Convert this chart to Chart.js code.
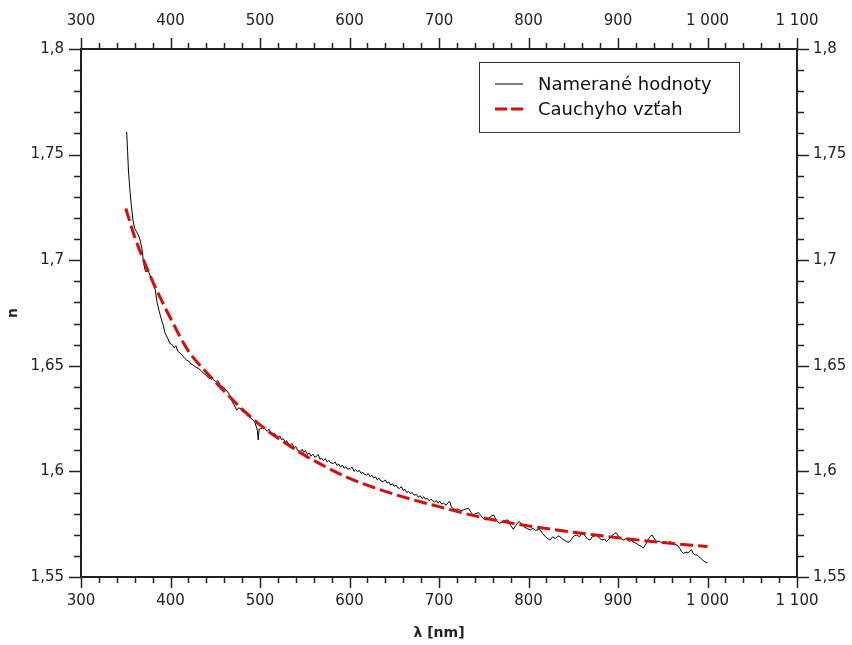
<!DOCTYPE html>
<html>
<head>
<meta charset="utf-8">
<title>Index lomu</title>
<script src="https://cdn.jsdelivr.net/npm/chart.js@4.4.1/dist/chart.umd.min.js"></script>
<style>
  body { margin: 0; background: #fff; }
  #wrap { width: 852px; height: 645px; position: relative; }
</style>
</head>
<body>
<div id="wrap"><canvas id="myChart"></canvas></div>
<script>
// Namerane hodnoty (vlnova dlzka v nm, index lomu)
const lambdaNamerane = [351, 352, 353, 354.5, 356, 358, 360, 362, 364, 366, 368, 370, 372, 375, 377, 379, 381, 383, 385, 387, 390, 392, 394, 397, 399, 402, 404, 406, 408, 411, 414, 416, 418, 421, 423, 425, 428, 431, 434, 437, 440, 443, 446, 448, 451, 453, 456, 459, 462, 465, 467, 469, 471, 474, 476, 478, 481, 483, 486, 488, 490, 492, 494, 496, 497, 498, 499, 502, 504, 506, 508, 510, 512, 514, 516, 518, 520, 522, 524, 526, 528, 530, 532, 534, 536, 538, 540, 542, 545, 547, 549, 551, 553, 555, 557, 559, 561, 563, 565, 567, 569, 571, 573, 575, 577, 579, 582, 584, 586, 588, 590, 592, 594, 596, 598, 601, 603, 605, 607, 609, 611, 613, 615, 617, 619, 621, 623, 625, 627, 629, 631, 633, 635, 638, 640, 642, 644, 646, 648, 650, 652, 654, 656, 658, 660, 662, 664, 666, 668, 670, 672, 675, 677, 679, 681, 683, 685, 687, 689, 691, 693, 695, 697, 699, 701, 703, 705, 708, 710, 712, 714, 716, 718, 721, 724, 727, 730, 733, 736, 738, 741, 744, 747, 750, 753, 756, 759, 761, 764, 766, 768, 771, 774, 777, 780, 783, 786, 788, 790, 793, 796, 799, 802, 805, 808, 811, 813, 816, 819, 822, 824, 827, 830, 833, 835, 838, 841, 844, 846, 849, 851, 854, 857, 859, 861, 864, 866, 869, 871, 874, 876, 879, 882, 885, 887, 890, 893, 896, 898, 901, 904, 906, 909, 912, 915, 917, 920, 923, 926, 928, 931, 934, 936, 938, 940, 943, 946, 949, 952, 955, 958, 961, 963, 966, 969, 971, 973, 976, 978, 980, 982, 984, 986, 988, 990, 992, 994, 996, 998, 1000];
const nNamerane = [1.7608, 1.7520, 1.7427, 1.7340, 1.7270, 1.7190, 1.7150, 1.7135, 1.7120, 1.7096, 1.7056, 1.6985, 1.6946, 1.6950, 1.6930, 1.6906, 1.6880, 1.6859, 1.6800, 1.6764, 1.6717, 1.6690, 1.6654, 1.6630, 1.6607, 1.6600, 1.6585, 1.6595, 1.6570, 1.6559, 1.6545, 1.6535, 1.6527, 1.6520, 1.6508, 1.6504, 1.6495, 1.6488, 1.6478, 1.6464, 1.6455, 1.6440, 1.6446, 1.6433, 1.6425, 1.6430, 1.6405, 1.6400, 1.6385, 1.6370, 1.6345, 1.6330, 1.6315, 1.6290, 1.6300, 1.6299, 1.6280, 1.6285, 1.6262, 1.6270, 1.6250, 1.6245, 1.6235, 1.6210, 1.6195, 1.6149, 1.6200, 1.6204, 1.6215, 1.6200, 1.6190, 1.6200, 1.6185, 1.6172, 1.6180, 1.6172, 1.6160, 1.6168, 1.6150, 1.6155, 1.6140, 1.6145, 1.6128, 1.6125, 1.6132, 1.6110, 1.6118, 1.6100, 1.6093, 1.6105, 1.6090, 1.6098, 1.6080, 1.6088, 1.6072, 1.6082, 1.6068, 1.6070, 1.6080, 1.6058, 1.6062, 1.6050, 1.6060, 1.6045, 1.6052, 1.6040, 1.6038, 1.6045, 1.6028, 1.6035, 1.6020, 1.6030, 1.6015, 1.6022, 1.6010, 1.6015, 1.6020, 1.6000, 1.6008, 1.5998, 1.6005, 1.5990, 1.5996, 1.5985, 1.5983, 1.5990, 1.5975, 1.5982, 1.5968, 1.5975, 1.5960, 1.5968, 1.5955, 1.5951, 1.5960, 1.5945, 1.5950, 1.5935, 1.5942, 1.5930, 1.5935, 1.5922, 1.5920, 1.5928, 1.5910, 1.5915, 1.5900, 1.5905, 1.5895, 1.5900, 1.5888, 1.5890, 1.5878, 1.5885, 1.5872, 1.5880, 1.5868, 1.5872, 1.5860, 1.5868, 1.5862, 1.5855, 1.5862, 1.5850, 1.5858, 1.5845, 1.5850, 1.5840, 1.5852, 1.5857, 1.5830, 1.5825, 1.5820, 1.5822, 1.5815, 1.5817, 1.5822, 1.5825, 1.5805, 1.5794, 1.5800, 1.5805, 1.5790, 1.5775, 1.5770, 1.5780, 1.5790, 1.5794, 1.5770, 1.5760, 1.5754, 1.5762, 1.5768, 1.5770, 1.5745, 1.5726, 1.5745, 1.5758, 1.5762, 1.5745, 1.5735, 1.5728, 1.5723, 1.5730, 1.5720, 1.5725, 1.5723, 1.5705, 1.5690, 1.5680, 1.5675, 1.5690, 1.5682, 1.5695, 1.5691, 1.5680, 1.5672, 1.5665, 1.5667, 1.5685, 1.5695, 1.5699, 1.5690, 1.5705, 1.5707, 1.5690, 1.5680, 1.5675, 1.5690, 1.5695, 1.5699, 1.5685, 1.5675, 1.5680, 1.5667, 1.5680, 1.5695, 1.5705, 1.5710, 1.5690, 1.5680, 1.5675, 1.5682, 1.5670, 1.5672, 1.5667, 1.5660, 1.5652, 1.5645, 1.5636, 1.5655, 1.5680, 1.5692, 1.5699, 1.5685, 1.5667, 1.5670, 1.5662, 1.5668, 1.5660, 1.5667, 1.5662, 1.5655, 1.5651, 1.5635, 1.5620, 1.5612, 1.5618, 1.5615, 1.5620, 1.5630, 1.5612, 1.5605, 1.5604, 1.5598, 1.5590, 1.5582, 1.5575, 1.5570, 1.5568];

// Cauchyho vztah - hodnoty odcitane z grafu
const lambdaCauchy = [350, 360, 370, 380, 390, 400, 420, 440, 460, 480, 500, 525, 550, 575, 600, 650, 700, 750, 800, 850, 900, 950, 1000];
const nCauchy = [1.7245, 1.7110, 1.7000, 1.6900, 1.6810, 1.6725, 1.6570, 1.6470, 1.6380, 1.6295, 1.6220, 1.6143, 1.6076, 1.6018, 1.5967, 1.5892, 1.5833, 1.5780, 1.5742, 1.5712, 1.5686, 1.5663, 1.5644];

// Osi
const xMin = 300, xMax = 1100, xStep = 100, xMinor = 20;
const yMin = 1.55, yMax = 1.8, yStep = 0.05, yMinor = 0.01;

const labelNamerane = 'Namerané hodnoty';
const labelCauchy = 'Cauchyho vzťah';
const xTitle = 'λ [nm]';
const yTitle = 'n';

const tickFont = { family: 'DejaVu Sans', size: 15 };
const titleFont = { family: 'DejaVu Sans', size: 14, weight: 'bold' };
const inkColor = '#222';

function toPoints(xs, ys) {
    return xs.map((x, i) => ({ x: x, y: ys[i] }));
}

function formatX(value) {
    return String(value).replace(/\B(?=(\d{3})+(?!\d))/g, ' ');
}
function formatY(value) {
    return String(Number(value.toFixed(2))).replace('.', ',');
}

// male a velke ciarky na osiach (kreslene cez skaly grafu)
const tickPlugin = {
    id: 'tickPlugin',
    afterDraw(chart) {
        const ctx = chart.ctx;
        const area = chart.chartArea;
        ctx.save();
        ctx.strokeStyle = inkColor;
        ctx.lineWidth = 1.5;
        ctx.beginPath();
        ['x', 'x2'].forEach(id => {
            const s = chart.scales[id];
            const n = Math.round((xMax - xMin) / xMinor);
            for (let i = 0; i <= n; i++) {
                const v = xMin + i * xMinor;
                const px = Math.round(s.getPixelForValue(v)) + 0.5;
                const len = (v % xStep === 0) ? 11 : 6;
                if (id === 'x') {
                    ctx.moveTo(px, area.bottom);
                    ctx.lineTo(px, area.bottom + len);
                } else {
                    ctx.moveTo(px, area.top);
                    ctx.lineTo(px, area.top - len);
                }
            }
        });
        ['y', 'y2'].forEach(id => {
            const s = chart.scales[id];
            const n = Math.round((yMax - yMin) / yMinor);
            for (let i = 0; i <= n; i++) {
                const v = yMin + i * yMinor;
                const py = Math.round(s.getPixelForValue(v)) + 0.5;
                const len = (i % 5 === 0) ? 12 : 7;
                if (id === 'y') {
                    ctx.moveTo(area.left, py);
                    ctx.lineTo(area.left - len, py);
                } else {
                    ctx.moveTo(area.right, py);
                    ctx.lineTo(area.right + len, py);
                }
            }
        });
        ctx.stroke();
        ctx.restore();
    }
};

// legenda v ramceku vpravo hore
const legendBoxPlugin = {
    id: 'legendBoxPlugin',
    afterDraw(chart) {
        const ctx = chart.ctx;
        const area = chart.chartArea;
        const left = area.right - 318;
        const top = area.top + 13;
        const w = 260, h = 70;
        ctx.save();
        ctx.fillStyle = '#fff';
        ctx.fillRect(left, top, w, h);
        ctx.strokeStyle = '#333';
        ctx.lineWidth = 1;
        ctx.strokeRect(left + 0.5, top + 0.5, w, h);
        chart.data.datasets.forEach((ds, i) => {
            const y = top + 22 + i * 25;
            ctx.beginPath();
            ctx.strokeStyle = ds.borderColor;
            ctx.lineWidth = ds.borderWidth;
            ctx.setLineDash(i === 1 ? [12, 4] : []);
            ctx.moveTo(left + 16, y);
            ctx.lineTo(left + 44, y);
            ctx.stroke();
            ctx.setLineDash([]);
            ctx.fillStyle = '#111';
            ctx.font = '18px "DejaVu Sans"';
            ctx.textBaseline = 'middle';
            ctx.textAlign = 'left';
            ctx.fillText(ds.label, left + 59, y + 1);
        });
        ctx.restore();
    }
};

const commonGrid = { drawOnChartArea: false, drawTicks: true, tickColor: 'rgba(0,0,0,0)' };
const commonBorder = { display: true, color: inkColor, width: 2 };

const config = {
    type: 'line',
    data: {
        datasets: [{
            label: labelNamerane,
            data: toPoints(lambdaNamerane, nNamerane),
            borderColor: '#000',
            borderWidth: 1,
            pointRadius: 0,
            tension: 0,
            fill: false,
            order: 1
        }, {
            label: labelCauchy,
            data: toPoints(lambdaCauchy, nCauchy),
            borderColor: 'rgb(222, 10, 10)',
            borderWidth: 3,
            borderDash: [13, 5],
            pointRadius: 0,
            cubicInterpolationMode: 'monotone',
            fill: false,
            order: 0
        }]
    },
    options: {
        responsive: true,
        maintainAspectRatio: false,
        animation: false,
        layout: { padding: 0 },
        plugins: {
            legend: { display: false },
            tooltip: { enabled: false },
            title: { display: false }
        },
        scales: {
            x: {
                type: 'linear', position: 'bottom', min: xMin, max: xMax,
                grid: Object.assign({ tickLength: 11 }, commonGrid),
                border: commonBorder,
                ticks: { stepSize: xStep, font: tickFont, color: inkColor, padding: 4, maxRotation: 0, callback: formatX },
                title: { display: true, text: xTitle, font: titleFont, color: inkColor, padding: { top: 4, bottom: 3 } },
                afterFit: s => { s.height = 68; }
            },
            x2: {
                type: 'linear', position: 'top', min: xMin, max: xMax,
                grid: Object.assign({ tickLength: 11 }, commonGrid),
                border: commonBorder,
                ticks: { stepSize: xStep, font: tickFont, color: inkColor, padding: 8, maxRotation: 0, callback: formatX },
                afterFit: s => { s.height = 49; }
            },
            y: {
                type: 'linear', position: 'left', min: yMin, max: yMax,
                grid: Object.assign({ tickLength: 12 }, commonGrid),
                border: commonBorder,
                ticks: { stepSize: yStep, font: tickFont, color: inkColor, padding: 5, callback: formatY },
                title: { display: true, text: yTitle, font: titleFont, color: inkColor, padding: { top: 5, bottom: 0 } },
                afterFit: s => { s.width = 81; }
            },
            y2: {
                type: 'linear', position: 'right', min: yMin, max: yMax,
                grid: Object.assign({ tickLength: 12 }, commonGrid),
                border: commonBorder,
                ticks: { stepSize: yStep, font: tickFont, color: inkColor, padding: 4, callback: formatY },
                afterFit: s => { s.width = 55; }
            }
        }
    },
    plugins: [tickPlugin, legendBoxPlugin]
};

const ctx = document.getElementById('myChart').getContext('2d');
const myChart = new Chart(ctx, config);
</script>
</body>
</html>
